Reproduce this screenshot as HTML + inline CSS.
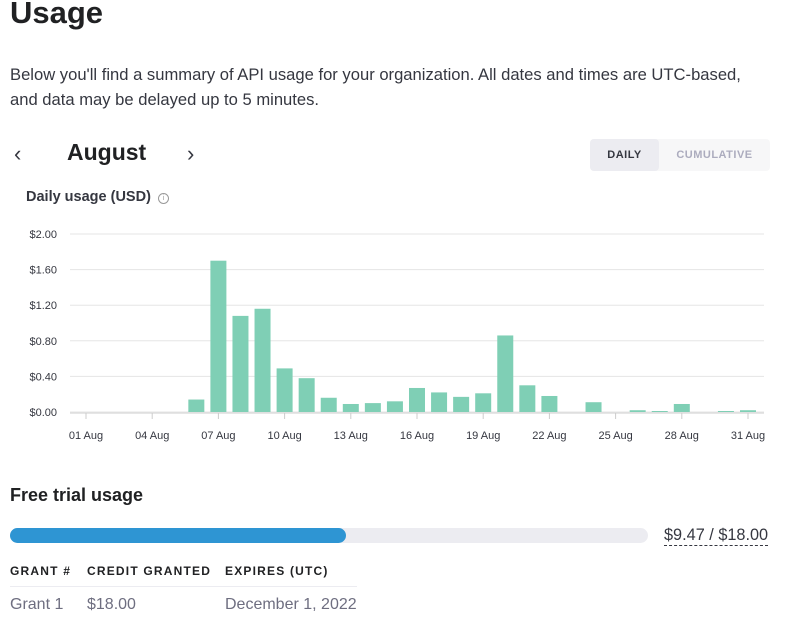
<!DOCTYPE html>
<html><head><meta charset="utf-8"><style>
body{margin:0;width:791px;height:622px;overflow:hidden;background:#fff;font-family:"Liberation Sans",sans-serif;color:#353740;position:relative}
.a{position:absolute;white-space:nowrap}
</style></head><body>
<div class="a" style="left:10px;top:-5px;font-size:31px;font-weight:bold;color:#202123">Usage</div>
<div class="a" style="left:10px;top:62px;font-size:16.6px;line-height:25px;color:#353740">Below you'll find a summary of API usage for your organization. All dates and times are UTC-based,<br>and data may be delayed up to 5 minutes.</div>
<div class="a" style="left:14px;top:141px;font-size:22px">&#8249;</div>
<div class="a" style="left:67px;top:139px;font-size:23px;font-weight:bold;color:#202123">August</div>
<div class="a" style="left:187px;top:141px;font-size:22px">&#8250;</div>
<div class="a" style="left:590px;top:139px;width:180px;height:32px;background:#f7f7f8;border-radius:4px">
<div class="a" style="left:0;top:0;width:69px;height:32px;background:#ececf1;border-radius:4px;font-size:11px;font-weight:bold;line-height:32px;text-align:center;letter-spacing:.5px;color:#353740">DAILY</div>
<div class="a" style="left:69px;top:0;width:111px;height:32px;font-size:11px;font-weight:bold;line-height:32px;text-align:center;letter-spacing:.5px;color:#acacbe">CUMULATIVE</div></div>
<div class="a" style="left:26px;top:189px;font-size:14.5px;font-weight:bold;color:#353740">Daily usage (USD) <span style="display:inline-block;width:9px;height:9px;border:1px solid #999;border-radius:50%;font-size:7px;line-height:9px;text-align:center;color:#999;font-weight:normal;vertical-align:1px;margin-left:3px">i</span></div>
<svg id="chart" class="a" style="left:0;top:0" width="791" height="460"></svg>
<div class="a" style="left:10px;top:485px;font-size:18px;font-weight:bold;color:#202123">Free trial usage</div>
<div class="a" style="left:10px;top:528px;width:638px;height:15px;background:#ececf1;border-radius:8px"><div style="width:336px;height:15px;background:#2e95d3;border-radius:8px"></div></div>
<div class="a" style="left:664px;top:526px;font-size:16.3px;border-bottom:1px dashed #353740;line-height:19px">$9.47 / $18.00</div>
<div class="a" style="left:10px;top:564px;font-size:12px;font-weight:bold;letter-spacing:1.2px;color:#202123">GRANT #</div>
<div class="a" style="left:87px;top:564px;font-size:12px;font-weight:bold;letter-spacing:1.2px;color:#202123">CREDIT GRANTED</div>
<div class="a" style="left:225px;top:564px;font-size:12px;font-weight:bold;letter-spacing:1.2px;color:#202123">EXPIRES (UTC)</div>
<div class="a" style="left:10px;top:586px;width:347px;height:1px;background:#ececf1"></div>
<div class="a" style="left:10px;top:596px;font-size:16px;color:#6e6e80">Grant 1</div>
<div class="a" style="left:87px;top:596px;font-size:16px;color:#6e6e80">$18.00</div>
<div class="a" style="left:225px;top:596px;font-size:16px;color:#6e6e80">December 1, 2022</div>
<script>
const days=[1,2,3,4,5,6,7,8,9,10,11,12,13,14,15,16,17,18,19,20,21,22,23,24,25,26,27,28,29,30,31];
const usage=[0,0,0,0,0,0.14,1.70,1.08,1.16,0.49,0.38,0.16,0.09,0.10,0.12,0.27,0.22,0.17,0.21,0.86,0.30,0.18,0,0.11,0,0.02,0.01,0.09,0,0.01,0.02];
const yTicks=[0,0.4,0.8,1.2,1.6,2.0];
const xTickDays=[1,4,7,10,13,16,19,22,25,28,31];
const svg=document.getElementById('chart');const NS='http://www.w3.org/2000/svg';
const x=d=>86+(d-1)*(748-86)/30;const y=v=>412-v*(412-234)/2;
function mk(t,a,txt){const e=document.createElementNS(NS,t);for(const k in a)e.setAttribute(k,a[k]);if(txt!=null)e.textContent=txt;svg.appendChild(e);return e;}
yTicks.forEach(v=>{const g=mk('line',{x1:70,x2:764,y1:y(v),y2:y(v),stroke:'#e5e5e5','stroke-width':1});


const t=mk('text',{x:57,y:y(v)+4,'text-anchor':'end','font-size':11,fill:'#353740','font-family':'Liberation Sans'},'$'+v.toFixed(2));

});
mk('line',{x1:70,x2:764,y1:413,y2:413,stroke:'#ddd','stroke-width':1.5});
xTickDays.forEach(d=>{const l=mk('line',{x1:x(d),x2:x(d),y1:413,y2:419,stroke:'#ccc'});


const t=mk('text',{x:x(d),y:439,'text-anchor':'middle','font-size':11,fill:'#353740','font-family':'Liberation Sans'},String(d).padStart(2,'0')+' Aug');

});
days.forEach((d,i)=>{const v=usage[i];if(v<=0)return;const h=Math.max(412-y(v),1);
const r=mk('rect',{x:x(d)-8,y:412-h,width:16,height:h,fill:'#7fcfb5'});

});
</script>
</body></html>
